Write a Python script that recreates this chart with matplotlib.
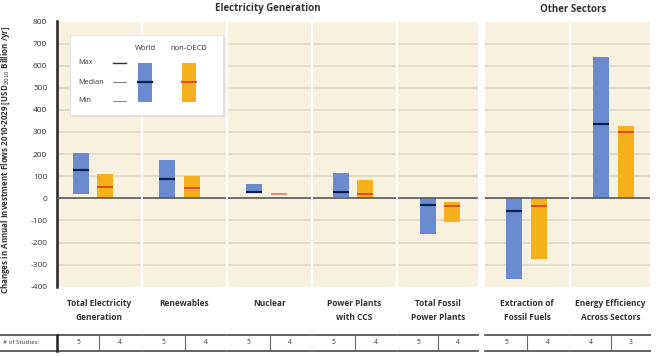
import matplotlib
matplotlib.use("Agg")
import matplotlib.pyplot as plt
from matplotlib.patches import Rectangle

# ---------------- data ----------------
categories = ["Total Electricity\nGeneration", "Renewables", "Nuclear",
              "Power Plants\nwith CCS", "Total Fossil\nPower Plants",
              "Extraction of\nFossil Fuels", "Energy Efficiency\nAcross Sectors"]
world_max = [204, 173, 65, 116, 0, 0, 638]
world_med = [128, 86, 30, 30, -29, -57, 335]
world_min = [19, 0, 30, 5, -163, -365, 0]
oecd_max = [110, 102, 20, 83, -18, 0, 329]
oecd_med = [50, 45, 20, 20, -35, -33, 301]
oecd_min = [0, 0, 20, 0, -109, -276, 0]
studies_world = [5, 5, 5, 5, 5, 5, 4]
studies_oecd = [4, 4, 4, 4, 4, 4, 3]
group_titles = ["Electricity Generation", "Other Sectors"]
yticks = [-400, -300, -200, -100, 0, 100, 200, 300, 400, 500, 600, 700, 800]

# ---------------- style ----------------
W, H = 661, 356
BLUE = "#6b8bd0"
ORANGE = "#f5b01c"
NAVY = "#0d1f4f"
RED = "#e0472a"
BEIGE = "#f8f1e0"
GRID = "#e2dac8"
FONT = ["Open Sans", "DejaVu Sans"]
plt.rcParams["font.family"] = FONT

fig = plt.figure(figsize=(W / 100, H / 100), dpi=100)

def fx(px):
    return px / W

def fy(py):
    return 1 - py / H

# main axes (pixel geometry)
ax_l, ax_r = 57, 652
ax_t, ax_b = 21.5, 286.7
ax = fig.add_axes([fx(ax_l), fy(ax_b), fx(ax_r - ax_l), (ax_b - ax_t) / H])
ax.set_facecolor("none")
ax.set_ylim(-400, 800)

# x scale: category index -> pixels
step = 86.75
x0_px = 92.95
ax.set_xlim((ax_l - x0_px) / step, (ax_r - x0_px) / step)

def px2x(px):
    return (px - x0_px) / step

# panels (pixel extents)
panels_px = [(57, 141), (143, 226), (228, 311), (313, 396), (398, 478),
             (485, 569), (571, 650)]
for (l, r) in panels_px:
    xl, xr = px2x(l), px2x(r)
    ax.axvspan(xl, xr, color=BEIGE, zorder=0, lw=0)
    for y in yticks:
        if y == 0 or y == -400:
            continue
        ax.hlines(y, xl, xr, color=GRID, lw=1.3, zorder=1)
    ax.hlines(0, xl, xr, color="#4a4a4a", lw=1.1, zorder=4)

off = 24.5 / step / 2
bw = 16 / step
n = len(categories)
for i in range(n):
    xb = i - off
    xo = i + off
    ax.bar(xb, world_max[i] - world_min[i], bottom=world_min[i], width=bw,
           color=BLUE, zorder=3, lw=0)
    ax.hlines(world_med[i], xb - bw / 2, xb + bw / 2, color=NAVY, lw=1.6, zorder=5)
    ax.bar(xo, oecd_max[i] - oecd_min[i], bottom=oecd_min[i], width=bw,
           color=ORANGE, zorder=3, lw=0)
    ax.hlines(oecd_med[i], xo - bw / 2, xo + bw / 2,
              color=RED if oecd_max[i] != oecd_min[i] else "#ec8a6a",
              lw=1.4, zorder=5)

for s in ["top", "right", "bottom"]:
    ax.spines[s].set_visible(False)
ax.spines["left"].set_linewidth(1.8)
ax.spines["left"].set_color("#222222")
ax.set_yticks(yticks)
ax.set_yticklabels([str(v) for v in yticks], fontsize=6, color="#333333")
ax.tick_params(axis="y", length=0, pad=7)
ax.set_xticks([])
ax.set_ylabel("Changes in Annual Investment Flows 2010-2029 [USD$_{2010}$ Billion /yr]",
              fontsize=5.8, fontweight="bold", color="#333333", labelpad=9)
ax.yaxis.set_label_coords(-0.075, 0.48)

# category labels
for i, (l, r) in enumerate(panels_px):
    fig.text(fx((l + r) / 2), fy(298.5), categories[i], ha="center", va="top",
             fontsize=6.0, fontweight="bold", color="#333333", linespacing=1.85)

# group titles
fig.text(fx(268), fy(9), group_titles[0], ha="center", va="center",
         fontsize=7, fontweight="bold", color="#333333")
fig.text(fx(573), fy(9), group_titles[1], ha="center", va="center",
         fontsize=7, fontweight="bold", color="#333333")

# studies table
tab = fig.add_axes([0, 0, 1, 1], facecolor="none")
tab.set_xlim(0, W)
tab.set_ylim(H, 0)
tab.axis("off")
line_y = (335, 351)
segs = [(0, 141)] + panels_px[1:]
for (l, r) in segs:
    for y in line_y:
        tab.plot([l, r], [y, y], color="#555555", lw=1.3)
tab.plot([57, 57], [335, 351], color="#222222", lw=1.8)
tab.text(3, 343, "# of Studies:", fontsize=4.5, va="center", ha="left", color="#333333")
for i, (l, r) in enumerate(panels_px):
    m = (l + r) / 2
    tab.plot([m, m], [335, 351], color="#666666", lw=0.8)
    tab.text((l + m) / 2, 343, str(studies_world[i]), fontsize=4.8, ha="center",
             va="center", color="#333333")
    tab.text((m + r) / 2, 343, str(studies_oecd[i]), fontsize=4.8, ha="center",
             va="center", color="#333333")

# legend box
tab.add_patch(Rectangle((72, 37), 153, 80, facecolor="#d8d4cc", edgecolor="none",
                        alpha=0.6, zorder=8))
tab.add_patch(Rectangle((70, 35), 153, 80, facecolor="white", edgecolor="#dddddd",
                        lw=0.5, zorder=9))
for lab, yy, c, lw in [("Max", 63, "#333333", 1.0), ("Median", 82, "#777777", 0.7),
                       ("Min", 101, "#888888", 0.7)]:
    tab.text(78, yy, lab, fontsize=5.2, va="center", ha="left", color="#333333", zorder=10)
    tab.plot([113, 126], [yy, yy], color=c, lw=lw, zorder=10)
tab.text(145, 49, "World", fontsize=5.5, ha="center", va="center", color="#333333", zorder=10)
tab.text(189, 48, "non-OECD", fontsize=5.5, ha="center", va="center", color="#333333", zorder=10)
tab.add_patch(Rectangle((138, 63), 14, 39, facecolor=BLUE, edgecolor="none", zorder=10))
tab.add_patch(Rectangle((182, 63), 14, 39, facecolor=ORANGE, edgecolor="none", zorder=10))
tab.plot([138, 152], [82, 82], color=NAVY, lw=1.6, zorder=11)
tab.plot([182, 196], [82, 82], color=RED, lw=1.4, zorder=11)

fig.savefig("out.png", dpi=100, facecolor="white")
